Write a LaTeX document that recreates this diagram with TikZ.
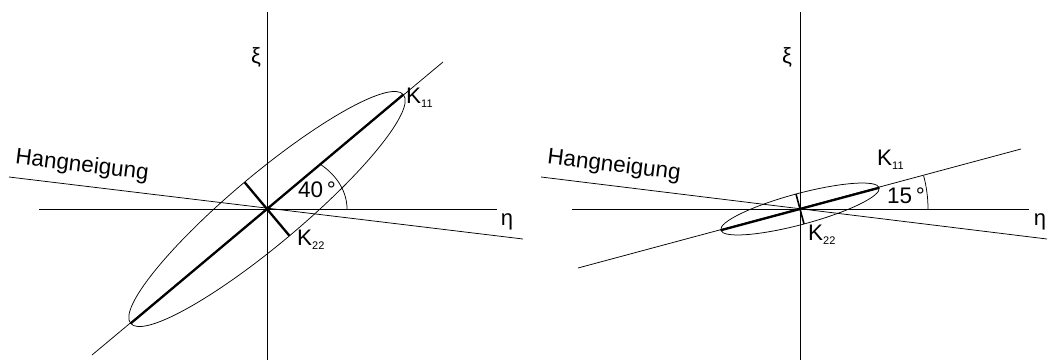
\documentclass[tikz,border=0pt]{standalone}
\usepackage{fontspec}
\setmainfont{Liberation Sans}
\usepackage{tikz}
\usetikzlibrary{calc}

\newcommand{\ksub}[1]{K\raisebox{-0.35ex}{\fontsize{11}{11}\selectfont #1}}

\begin{document}
\begin{tikzpicture}[
    x=1pt, y=1pt,
    thinline/.style={line width=0.75pt},
    kline/.style={line width=2.3pt},
    lbl/.style={font=\fontsize{22.5}{26}\selectfont, inner sep=0pt},
    greek/.style={font=\fontsize{22}{26}\selectfont, inner sep=0pt}
]
\useasboundingbox (0,0) rectangle (1048,360);

% ==================== LEFT: TENSOR AT 40 DEG ====================
\coordinate (O1) at (267,151);
\coordinate (xiTop1) at (267,348);
\coordinate (xiBot1) at (267,0);
\coordinate (etaL1) at (39,151);
\coordinate (etaR1) at (497,151);
\coordinate (hangL1) at (9,183);
\coordinate (hangR1) at (523,121);
\coordinate (dirL1) at (92,5);
\coordinate (dirR1) at (443,298);
\coordinate (kOneA1) at ($(O1)+(40:178)$);
\coordinate (kOneB1) at ($(O1)+(220:178)$);
\coordinate (kTwoA1) at ($(O1)+(130:35)$);
\coordinate (kTwoB1) at ($(O1)+(310:35)$);

\draw[thinline] (xiBot1) -- (xiTop1);
\draw[thinline] (etaL1) -- (etaR1);
\draw[thinline] (hangL1) -- (hangR1);
\draw[thinline] (dirL1) -- (dirR1);
\draw[thinline, rotate around={40:(O1)}] (O1) ellipse [x radius=178, y radius=35];
\draw[kline] (kOneB1) -- (kOneA1);
\draw[kline] (kTwoA1) -- (kTwoB1);
\draw[thinline] ($(O1)+(80,0)$) arc[start angle=0, end angle=47.5, x radius=80, y radius=60];

\node[greek] (xi1) at (256,303) {ξ};
\node[greek] (eta1) at (507,138) {η};
\node[lbl, rotate=-7] (hang1) at (82,194) {Hangneigung};
\node[lbl, anchor=west] (k11l) at (406,262) {\ksub{11}};
\node[lbl, anchor=west] (k22l) at (297,120) {\ksub{22}};
\node[lbl] (ang1) at (317,170) {40\,°};

% ==================== RIGHT: TENSOR AT 15 DEG ====================
\coordinate (O2) at (800,151);
\coordinate (xiTop2) at (800,348);
\coordinate (xiBot2) at (800,0);
\coordinate (etaL2) at (572,151);
\coordinate (etaR2) at (1029,151);
\coordinate (hangL2) at (541,183);
\coordinate (hangR2) at (1047,121);
\coordinate (dirL2) at (578,92);
\coordinate (dirR2) at (1021,211);
\coordinate (kOneA2) at ($(O2)+(15:82)$);
\coordinate (kOneB2) at ($(O2)+(195:82)$);
\coordinate (kTwoA2) at ($(O2)+(105:15.5)$);
\coordinate (kTwoB2) at ($(O2)+(285:15.5)$);

\draw[thinline] (xiBot2) -- (xiTop2);
\draw[thinline] (etaL2) -- (etaR2);
\draw[thinline] (hangL2) -- (hangR2);
\draw[thinline] (dirL2) -- (dirR2);
\draw[thinline, rotate around={15:(O2)}] (O2) ellipse [x radius=82, y radius=15.5];
\draw[kline] (kOneB2) -- (kOneA2);
\draw[thinline, line width=1.6pt] (kTwoA2) -- (kTwoB2);
\draw[thinline] ($(O2)+(128,0)$) arc[start angle=0, end angle=15, radius=128];

\node[greek] (xi2) at (787,303) {ξ};
\node[greek] (eta2) at (1040,138) {η};
\node[lbl, rotate=-7] (hang2) at (614,194) {Hangneigung};
\node[lbl, anchor=west] (k11r) at (877,200) {\ksub{11}};
\node[lbl, anchor=west] (k22r) at (808,125) {\ksub{22}};
\node[lbl] (ang2) at (906,164) {15\,°};

\end{tikzpicture}
\end{document}
